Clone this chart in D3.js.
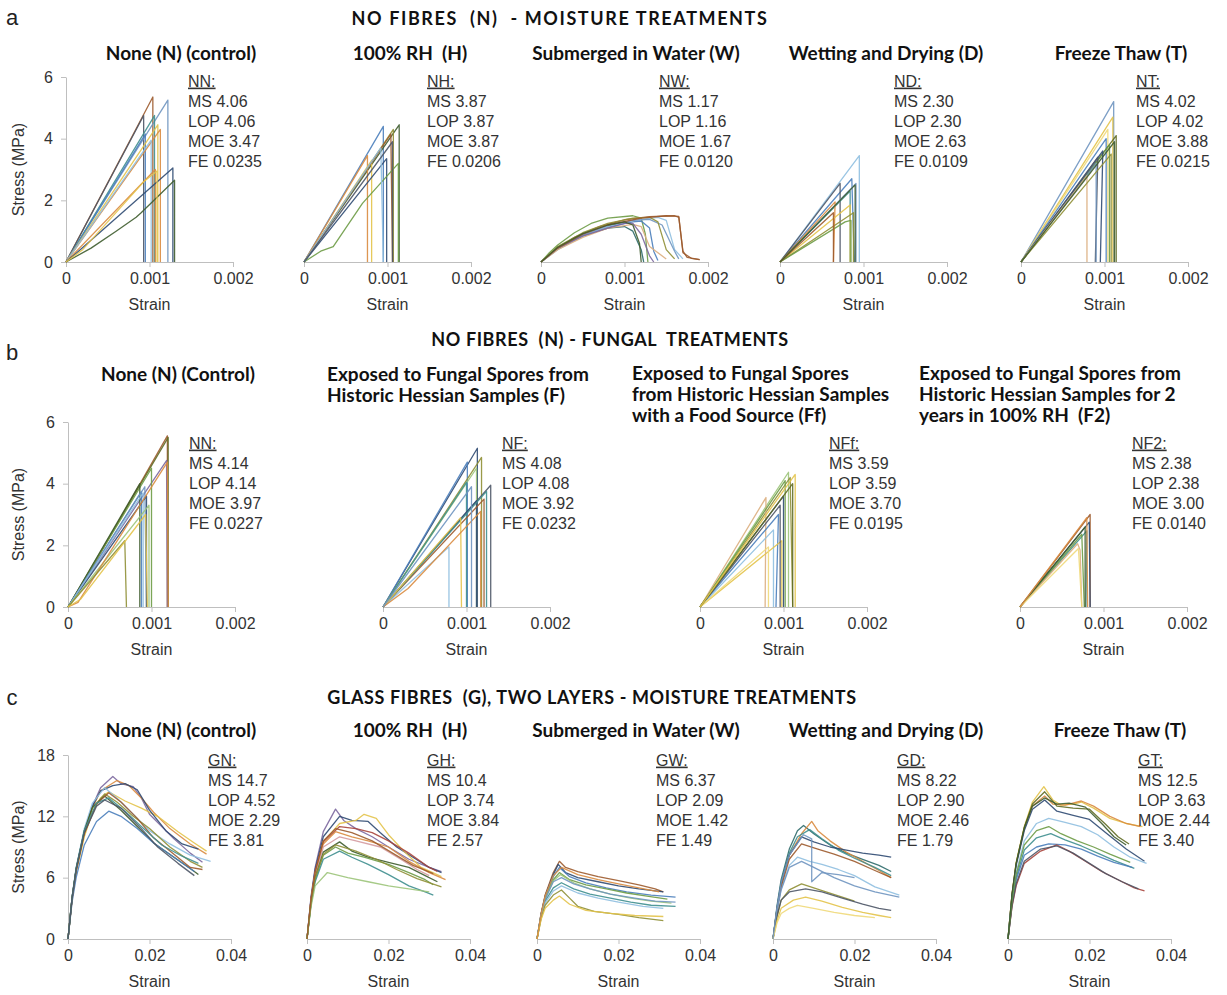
<!DOCTYPE html>
<html lang="en">
<head>
<meta charset="UTF-8">
<title>Stress-strain curves</title>
<script src="https://d3js.org/d3.v7.min.js"></script>
<style>
  body { margin: 0; background: #fff; }
  svg { display: block; font-family: "Liberation Sans", Arial, sans-serif; }
  .row-title { font-family: Lato, sans-serif; font-weight: 700; font-size: 18px; fill: #111; white-space: pre; letter-spacing: 0.6px; }
  .panel-title { font-family: Lato, sans-serif; font-weight: 700; font-size: 19px; fill: #111; white-space: pre; }
  .row-label { font-size: 22px; fill: #222; }
  .stat { font-size: 16px; fill: #333; }
  .tick text { font-size: 16px; fill: #333; }
  .axis-title { font-size: 16px; fill: #333; }
</style>
</head>
<body>
<div id="chart"></div>
<script>
// ---------- data ----------
const rowTitles = [
  "NO FIBRES  (N)  - MOISTURE TREATMENTS",
  "NO FIBRES  (N) - FUNGAL  TREATMENTS",
  "GLASS FIBRES  (G), TWO LAYERS - MOISTURE TREATMENTS"
];
const rowLetters = ["a", "b", "c"];

const moistureTitles = [["None (N) (control)"], ["100% RH  (H)"], ["Submerged in Water (W)"], ["Wetting and Drying (D)"], ["Freeze Thaw (T)"]];
const fungalTitles = [
  ["None (N) (Control)"],
  ["Exposed to Fungal Spores from", "Historic Hessian Samples (F)"],
  ["Exposed to Fungal Spores", "from Historic Hessian Samples", "with a Food Source (Ff)"],
  ["Exposed to Fungal Spores from", "Historic Hessian Samples for 2", "years in 100% RH  (F2)"]
];

const brittleStrainTicks = [0, 0.001, 0.002];
const brittleStressTicks = [0, 2, 4, 6];
const glassStrainTicks = [0, 0.02, 0.04];
const glassStressTicks = [0, 6, 12, 18];

// stats per panel: code, MS, LOP, MOE, FE
const statsA = [
  ["NN", "4.06", "4.06", "3.47", "0.0235"],
  ["NH", "3.87", "3.87", "3.87", "0.0206"],
  ["NW", "1.17", "1.16", "1.67", "0.0120"],
  ["ND", "2.30", "2.30", "2.63", "0.0109"],
  ["NT", "4.02", "4.02", "3.88", "0.0215"]
];
const statsB = [
  ["NN", "4.14", "4.14", "3.97", "0.0227"],
  ["NF", "4.08", "4.08", "3.92", "0.0232"],
  ["NFf", "3.59", "3.59", "3.70", "0.0195"],
  ["NF2", "2.38", "2.38", "3.00", "0.0140"]
];
const statsC = [
  ["GN", "14.7", "4.52", "2.29", "3.81"],
  ["GH", "10.4", "3.74", "3.84", "2.57"],
  ["GW", "6.37", "2.09", "1.42", "1.49"],
  ["GD", "8.22", "2.90", "2.46", "1.79"],
  ["GT", "12.5", "3.63", "2.44", "3.40"]
];

// curves: [strain, stress (MPa)] points
const nnCurves = [
  [[0,0],[0.00104,5.35],[0.00104,0]],
  [[0,0],[0.00093,4.75],[0.00093,0]],
  [[0,0],[0.00122,5.25],[0.00122,0]],
  [[0,0],[0.00106,4.75],[0.00106,0]],
  [[0,0],[0.00095,4.15],[0.00095,0]],
  [[0,0],[0.0011,4.45],[0.0011,0]],
  [[0,0],[0.00113,4.3],[0.00113,0]],
  [[0,0],[0.00102,3.95],[0.00102,0]],
  [[0,0],[0.00107,3.0],[0.00107,0]],
  [[0,0],[0.00015,0.35],[0.00128,3.05],[0.00128,0]],
  [[0,0],[0.0003,0.45],[0.0006,1.0],[0.00084,1.45],[0.0009,1.6],[0.0013,2.65],[0.0013,0]],
  [[0,0],[0.0002,0.4],[0.00093,2.6],[0.00109,2.95],[0.00109,0]]
];
const nhCurves = [
  [[0,0],[0.00095,4.4],[0.00095,0]],
  [[0,0],[0.00114,4.45],[0.00114,0]],
  [[0,0],[0.00107,4.3],[0.00107,0]],
  [[0,0],[0.00076,3.45],[0.00076,0]],
  [[0,0],[0.00081,3.3],[0.00081,0]],
  [[0,0],[0.00104,4.15],[0.00106,0]],
  [[0,0],[0.00099,3.35],[0.00099,0]],
  [[0,0],[0.0002,0.35],[0.00035,0.5],[0.0007,1.9],[0.00113,3.2],[0.00113,0]],
  [[0,0],[0.00092,3.7],[0.00095,0]],
  [[0,0],[0.00106,3.9],[0.00106,0]]
];
const nwCurves = [
  [[0,0],[0.0001,0.3],[0.0002,0.55],[0.0004,0.95],[0.0006,1.25],[0.0008,1.42],[0.0011,1.5],[0.0012,1.42],[0.00125,0.9],[0.00128,0]],
  [[0,0],[0.0002,0.45],[0.0004,0.8],[0.0007,1.15],[0.001,1.37],[0.0013,1.47],[0.0016,1.5],[0.00165,1.45],[0.0017,0.35],[0.00175,0.15],[0.0019,0.08]],
  [[0,0],[0.0002,0.42],[0.0005,0.85],[0.0008,1.13],[0.0011,1.3],[0.0012,1.33],[0.0013,1.1],[0.00135,0.35],[0.0014,0.05]],
  [[0,0],[0.0002,0.45],[0.0005,0.85],[0.0008,1.1],[0.001,1.15],[0.0011,1.0],[0.0012,0.4],[0.00123,0]],
  [[0,0],[0.0002,0.4],[0.0005,0.85],[0.0008,1.15],[0.0011,1.35],[0.0014,1.45],[0.0015,1.35],[0.0016,0.4],[0.0017,0.1]],
  [[0,0],[0.0002,0.42],[0.0005,0.88],[0.0008,1.18],[0.0011,1.35],[0.0013,1.38],[0.00145,1.2],[0.0016,0.35],[0.00165,0.1]],
  [[0,0],[0.0002,0.4],[0.0005,0.8],[0.0008,1.1],[0.0011,1.22],[0.0012,1.15],[0.0013,0.5],[0.0015,0.1]],
  [[0,0],[0.0002,0.45],[0.0005,0.85],[0.0008,1.1],[0.001,1.25],[0.0011,1.25],[0.0012,0.9],[0.0013,0.2],[0.00135,0]],
  [[0,0],[0.0002,0.5],[0.0005,0.95],[0.0008,1.25],[0.0011,1.42],[0.0013,1.45],[0.0014,1.3],[0.0015,0.4],[0.0016,0.1]],
  [[0,0],[0.0002,0.45],[0.0005,0.9],[0.0008,1.2],[0.0012,1.42],[0.0015,1.5],[0.00165,1.48],[0.0017,0.3],[0.0018,0.12],[0.0019,0.08]],
  [[0,0],[0.0002,0.48],[0.0005,0.92],[0.0008,1.2],[0.001,1.3],[0.0011,1.2],[0.00118,0.6],[0.0012,0]]
];
const ndCurves = [
  [[0,0],[0.00095,3.45],[0.00095,0]],
  [[0,0],[0.00086,2.7],[0.00089,0]],
  [[0,0],[0.00072,2.55],[0.00072,0]],
  [[0,0],[0.00091,2.55],[0.00091,0]],
  [[0,0],[0.00084,2.3],[0.00084,0]],
  [[0,0],[0.00066,1.95],[0.00064,0]],
  [[0,0],[0.00084,1.85],[0.00084,0]],
  [[0,0],[0.00088,1.6],[0.00088,0]],
  [[0,0],[0.00078,1.3],[0.00085,1.35],[0.00085,0]],
  [[0,0],[0.00064,1.6],[0.00064,0]],
  [[0,0],[0.0009,2.5],[0.0009,0]]
];
const ntCurves = [
  [[0,0],[0.00111,5.2],[0.00111,0]],
  [[0,0],[0.0011,4.7],[0.0011,0]],
  [[0,0],[0.00104,4.3],[0.00104,0]],
  [[0,0],[0.00102,4.0],[0.00102,0]],
  [[0,0],[0.00114,4.1],[0.00114,0]],
  [[0,0],[0.00106,3.8],[0.00106,0]],
  [[0,0],[0.00098,3.6],[0.00095,0]],
  [[0,0],[0.00092,3.4],[0.00089,0]],
  [[0,0],[0.0009,3.2],[0.0009,0]],
  [[0,0],[0.00079,2.8],[0.00079,0]],
  [[0,0],[0.00108,3.5],[0.00108,0]],
  [[0,0],[0.00112,3.9],[0.00112,0]]
];
const fnnCurves = [
  [[0,0],[0.0002,0.85],[0.00119,5.55],[0.00119,0]],
  [[0,0],[0.0012,5.5],[0.0012,0]],
  [[0,0],[0.00118,4.75],[0.00119,0]],
  [[0,0],[0.001,4.5],[0.001,0]],
  [[0,0],[0.00086,4.0],[0.00086,0]],
  [[0,0],[0.00088,3.75],[0.00088,0]],
  [[0,0],[0.00092,3.9],[0.00094,0]],
  [[0,0],[0.00094,3.6],[0.00094,0]],
  [[0,0],[0.0009,3.7],[0.0009,0]],
  [[0,0],[0.00097,3.3],[0.00097,0]],
  [[0,0],[0.00012,0.15],[0.00119,4.7],[0.0012,0]],
  [[0,0],[0.00068,2.15],[0.0007,0]],
  [[0,0],[0.00015,0.25],[0.00093,3.0],[0.00095,0]]
];
const nfCurves = [
  [[0,0],[0.00113,5.15],[0.00113,0]],
  [[0,0],[0.00101,4.7],[0.00101,0]],
  [[0,0],[0.00118,4.85],[0.00118,0]],
  [[0,0],[0.00112,4.5],[0.00112,0]],
  [[0,0],[0.001,4.05],[0.001,0]],
  [[0,0],[0.00129,3.95],[0.00129,0]],
  [[0,0],[0.00112,3.45],[0.00112,0]],
  [[0,0],[0.00121,3.5],[0.00121,0]],
  [[0,0],[0.00124,3.75],[0.00124,0]],
  [[0,0],[0.00079,1.95],[0.00079,0]],
  [[0,0],[0.00093,2.9],[0.00094,0]],
  [[0,0],[0.0003,0.6],[0.00117,3.1],[0.00117,0]],
  [[0,0],[0.00106,3.9],[0.00106,0]]
];
const nffCurves = [
  [[0,0],[0.00106,4.37],[0.00106,0]],
  [[0,0],[0.00108,4.2],[0.00111,0]],
  [[0,0],[0.00079,3.55],[0.00078,0]],
  [[0,0],[0.00102,4.1],[0.00102,0]],
  [[0,0],[0.001,3.6],[0.001,0]],
  [[0,0],[0.00094,3.0],[0.00091,0]],
  [[0,0],[0.00088,2.5],[0.00088,0]],
  [[0,0],[0.00098,2.15],[0.00098,0]],
  [[0,0],[0.00096,3.3],[0.00096,0]],
  [[0,0],[0.00082,1.95],[0.00082,0]],
  [[0,0],[0.00111,4.0],[0.00111,0]],
  [[0,0],[0.00114,4.3],[0.00114,0]]
];
const nf2Curves = [
  [[0,0],[0.00084,3.0],[0.00084,0]],
  [[0,0],[0.00083,2.75],[0.00084,0]],
  [[0,0],[0.0008,2.47],[0.00079,0]],
  [[0,0],[0.00074,2.36],[0.00077,0]],
  [[0,0],[0.00069,2.05],[0.00072,1.85],[0.00074,0]],
  [[0,0],[0.00078,2.6],[0.00078,0]],
  [[0,0],[0.0007,1.9],[0.00074,0]],
  [[0,0],[0.0008,2.9],[0.00081,0]]
];
const gnCurves = [
  [[0,0],[0.001,4],[0.002,6.8],[0.004,10.5],[0.006,13],[0.008,14.8],[0.011,15.9],[0.013,15.2],[0.016,14.9],[0.018,13.8],[0.02,12.2],[0.023,11],[0.026,9.8],[0.03,8.4],[0.033,7.5]],
  [[0,0],[0.001,3.8],[0.002,6.5],[0.004,10.2],[0.006,12.8],[0.008,14.5],[0.012,15.5],[0.015,15],[0.018,13.8],[0.021,12.4],[0.025,10.8],[0.03,9.3],[0.034,8.3]],
  [[0,0],[0.001,3.9],[0.002,6.6],[0.004,10],[0.006,12.4],[0.008,13.8],[0.01,14.4],[0.014,13.5],[0.018,12.8],[0.022,12],[0.027,10.5],[0.031,9.4],[0.034,8.6]],
  [[0,0],[0.001,4],[0.002,6.8],[0.004,10.5],[0.006,13],[0.008,14.5],[0.011,15],[0.014,15.2],[0.017,14.6],[0.02,12.6],[0.024,10.6],[0.028,9.3],[0.032,8.8]],
  [[0,0],[0.001,4.1],[0.002,7],[0.004,10.8],[0.006,13.3],[0.009,14.8],[0.012,13.8],[0.016,12.2],[0.02,10.6],[0.025,9.3],[0.03,8.2],[0.035,7.6]],
  [[0,0],[0.001,4],[0.002,6.8],[0.004,10.4],[0.006,12.8],[0.009,14.2],[0.012,13.4],[0.016,12],[0.02,10.8],[0.025,9],[0.03,7.6],[0.033,7]],
  [[0,0],[0.001,4],[0.002,6.9],[0.004,10.6],[0.006,12.9],[0.009,14],[0.013,12.6],[0.017,11],[0.021,9.4],[0.026,8],[0.03,6.9],[0.032,6.3]],
  [[0,0],[0.001,3.6],[0.002,6],[0.004,9.2],[0.007,11.5],[0.01,12.5],[0.013,12],[0.017,10.8],[0.021,9.4],[0.026,8],[0.031,6.6]],
  [[0,0],[0.001,4],[0.002,6.7],[0.004,10.3],[0.007,13.2],[0.01,14.3],[0.013,13.4],[0.017,11.8],[0.021,9.9],[0.026,8.3],[0.03,7],[0.033,6.8]],
  [[0,0],[0.001,4.1],[0.002,6.9],[0.004,10.6],[0.007,13.3],[0.01,13.8],[0.014,12.5],[0.018,11],[0.023,9.2],[0.028,8.1],[0.032,7.4]],
  [[0,0],[0.001,4],[0.002,6.8],[0.004,10.4],[0.007,13],[0.009,13.6],[0.013,12.8],[0.018,10.8],[0.022,9],[0.027,7.4],[0.031,6.2]]
];
const ghCurves = [
  [[0,0],[0.001,4.2],[0.002,7],[0.004,10.5],[0.007,12.7],[0.009,11.6],[0.012,10.8],[0.016,10],[0.02,9],[0.025,7.8],[0.03,7],[0.033,6.6]],
  [[0,0],[0.001,4],[0.002,6.8],[0.004,10],[0.008,12],[0.011,11.6],[0.015,11.5],[0.018,10.4],[0.022,9],[0.026,8],[0.03,7],[0.033,6.5]],
  [[0,0],[0.001,3.8],[0.002,6.5],[0.004,9.5],[0.008,11.3],[0.012,11.6],[0.014,12.2],[0.017,11.8],[0.02,10.2],[0.024,8.5],[0.028,7],[0.033,6.1]],
  [[0,0],[0.001,3.9],[0.002,6.6],[0.004,9.5],[0.008,11],[0.012,10.8],[0.016,10.4],[0.02,9.6],[0.025,8.4],[0.03,7],[0.032,6.6]],
  [[0,0],[0.001,3.8],[0.002,6.4],[0.004,9.3],[0.007,10.5],[0.011,10],[0.015,9.6],[0.02,9],[0.025,7.6],[0.03,6.5],[0.034,5.8]],
  [[0,0],[0.001,3.7],[0.002,6.2],[0.004,9],[0.008,10],[0.012,9.6],[0.018,9],[0.023,7.8],[0.027,6.8],[0.03,6.2]],
  [[0,0],[0.001,3.6],[0.002,6],[0.004,8.5],[0.008,9.5],[0.011,8.6],[0.015,8],[0.02,7.5],[0.025,7],[0.029,6.2],[0.032,5.6]],
  [[0,0],[0.001,3.5],[0.002,5.8],[0.004,8.2],[0.007,9],[0.01,8.4],[0.014,8],[0.02,7.3],[0.025,6.5],[0.029,5.8],[0.031,5.3]],
  [[0,0],[0.001,3.4],[0.002,5.6],[0.004,7.8],[0.008,8.6],[0.011,8],[0.015,7.3],[0.02,6.3],[0.025,5.2],[0.029,4.6],[0.031,4.3]],
  [[0,0],[0.001,3.2],[0.002,5.2],[0.005,6.5],[0.01,6],[0.015,5.6],[0.02,5.2],[0.025,4.9],[0.03,4.6]],
  [[0,0],[0.001,3.6],[0.002,6],[0.004,8.3],[0.007,9.2],[0.012,8.6],[0.017,7.8],[0.022,6.8],[0.027,5.9],[0.033,5.1]],
  [[0,0],[0.001,3.9],[0.002,6.5],[0.004,9.6],[0.007,10.8],[0.011,10.4],[0.016,9.6],[0.021,8.4],[0.026,7.2],[0.031,6.4]]
];
const gwCurves = [
  [[0,0],[0.001,2.5],[0.002,4.3],[0.004,6.5],[0.0055,7.6],[0.007,7.0],[0.01,6.6],[0.015,6.1],[0.02,5.7],[0.025,5.3],[0.029,4.9],[0.031,4.6]],
  [[0,0],[0.001,2.4],[0.002,4.2],[0.004,6.3],[0.0052,7.3],[0.007,6.5],[0.01,6],[0.015,5.6],[0.02,5.2],[0.025,4.9],[0.031,4.6]],
  [[0,0],[0.001,2.4],[0.002,4.1],[0.004,6.1],[0.0055,7.0],[0.008,6.1],[0.012,5.5],[0.017,5.0],[0.022,4.6],[0.028,4.3],[0.034,4.1]],
  [[0,0],[0.001,2.3],[0.002,4],[0.004,5.8],[0.0055,6.5],[0.008,5.8],[0.012,5.3],[0.017,4.9],[0.022,4.5],[0.027,4.2],[0.032,3.9]],
  [[0,0],[0.001,2.3],[0.002,3.9],[0.004,5.7],[0.0058,6.3],[0.009,5.5],[0.013,4.9],[0.018,4.4],[0.023,4.0],[0.028,3.7],[0.033,3.5]],
  [[0,0],[0.001,2.2],[0.002,3.7],[0.004,5.0],[0.006,5.5],[0.009,4.9],[0.013,4.4],[0.018,4.0],[0.023,3.6],[0.028,3.3],[0.034,3.2]],
  [[0,0],[0.001,2.3],[0.002,3.9],[0.004,5.6],[0.006,6.0],[0.009,5.4],[0.013,4.9],[0.018,4.4],[0.024,4.0],[0.029,3.7],[0.034,3.6]],
  [[0,0],[0.001,2.1],[0.002,3.5],[0.004,4.7],[0.006,5.2],[0.01,4.5],[0.015,4.0],[0.02,3.6],[0.026,3.2],[0.031,3.0]],
  [[0,0],[0.001,2.0],[0.002,3.3],[0.004,4.3],[0.006,4.8],[0.008,4.0],[0.01,3.2],[0.014,2.7],[0.02,2.4],[0.025,2.1],[0.031,1.8]],
  [[0,0],[0.001,1.9],[0.002,3.0],[0.004,3.8],[0.0055,4.2],[0.008,3.4],[0.012,2.8],[0.018,2.5],[0.024,2.3],[0.031,2.2]],
  [[0,0],[0.001,2.4],[0.002,4.2],[0.004,6.2],[0.006,7.0],[0.01,6.3],[0.015,5.8],[0.02,5.4],[0.025,5.0],[0.03,4.6]]
];
const gdCurves = [
  [[0,0],[0.001,3.3],[0.002,5.8],[0.004,8.8],[0.006,10.6],[0.0075,11.1],[0.01,10.3],[0.014,9.2],[0.018,8.4],[0.022,7.8],[0.026,7.2],[0.029,6.6]],
  [[0,0],[0.001,3],[0.002,5.3],[0.004,8.2],[0.007,10.3],[0.0095,11.5],[0.011,10.6],[0.014,9.6],[0.018,8.5],[0.022,7.6],[0.026,6.7],[0.029,6.0]],
  [[0,0],[0.001,3.1],[0.002,5.5],[0.004,8.4],[0.006,10],[0.009,10.7],[0.012,9.8],[0.016,8.7],[0.02,7.9],[0.025,7],[0.029,6.2]],
  [[0,0],[0.001,3],[0.002,5.4],[0.004,8.2],[0.007,10.0],[0.01,9.5],[0.014,9.0],[0.018,8.7],[0.022,8.4],[0.026,8.2],[0.029,8.0]],
  [[0,0],[0.001,2.8],[0.002,4.9],[0.004,7.2],[0.006,8],[0.009,7.6],[0.012,7.3],[0.016,6.8],[0.02,6.2],[0.025,5.1],[0.031,4.3]],
  [[0,0],[0.001,2.9],[0.002,5.1],[0.004,7.8],[0.007,9.3],[0.011,8.8],[0.015,8.3],[0.02,7.6],[0.025,6.7],[0.029,6.0]],
  [[0,0],[0.001,2.8],[0.002,4.8],[0.004,7],[0.007,7.6],[0.01,7.0],[0.015,6.0],[0.02,5.2],[0.025,4.6],[0.031,4.1]],
  [[0,0],[0.001,2.2],[0.002,3.8],[0.004,4.8],[0.007,5.4],[0.01,5.0],[0.013,4.6],[0.017,4.1],[0.02,3.7]],
  [[0,0],[0.001,2.3],[0.002,3.8],[0.004,4.6],[0.008,4.9],[0.012,4.6],[0.017,4.0],[0.022,3.4],[0.026,3.0],[0.029,2.8]],
  [[0,0],[0.001,1.8],[0.002,3.0],[0.005,3.8],[0.008,4.1],[0.012,3.7],[0.017,3.1],[0.022,2.6],[0.026,2.3],[0.029,2.1]],
  [[0,0],[0.001,1.6],[0.002,2.5],[0.004,3.0],[0.006,3.3],[0.01,3.0],[0.015,2.6],[0.02,2.3],[0.025,2.1]],
  [[0,0],[0.001,3.1],[0.002,5.5],[0.004,8.2],[0.0075,10.2],[0.0095,9.8],[0.0095,5.6],[0.012,6.5],[0.016,6.3],[0.02,6.0]]
];
const gtCurves = [
  [[0,0],[0.001,4.5],[0.002,7.5],[0.004,11],[0.006,13.4],[0.0088,14.9],[0.011,13.6],[0.013,13.1],[0.016,13.2],[0.018,13.4],[0.021,12.8],[0.025,11.8],[0.029,11.3],[0.033,11.0]],
  [[0,0],[0.001,4.3],[0.002,7.3],[0.004,10.8],[0.006,13],[0.009,14],[0.011,13.2],[0.014,13.1],[0.018,13.5],[0.021,13.0],[0.025,12],[0.029,11.3],[0.0325,11.0]],
  [[0,0],[0.001,4.4],[0.002,7.4],[0.004,10.9],[0.006,13.2],[0.009,14.4],[0.012,13.0],[0.016,12.8],[0.02,12.7],[0.024,11.2],[0.027,10.0],[0.0297,9.3]],
  [[0,0],[0.001,4.3],[0.002,7.2],[0.004,10.6],[0.006,12.7],[0.009,13.6],[0.012,12.5],[0.016,12.1],[0.02,11.7],[0.024,10.4],[0.029,8.8],[0.0335,7.6]],
  [[0,0],[0.001,3.9],[0.002,6.5],[0.004,9.6],[0.007,11.3],[0.01,11.8],[0.014,11.4],[0.018,11],[0.022,10.2],[0.026,9.0],[0.03,8.0],[0.034,7.4]],
  [[0,0],[0.001,3.6],[0.002,6],[0.004,8.7],[0.007,9.9],[0.0105,10.3],[0.014,9.7],[0.018,9.1],[0.022,8.4],[0.026,7.7],[0.031,6.9]],
  [[0,0],[0.001,3.5],[0.002,5.8],[0.004,8.2],[0.007,9.0],[0.01,9.3],[0.014,9.2],[0.018,8.8],[0.022,8.1],[0.026,7.5],[0.0305,7.0]],
  [[0,0],[0.001,3.2],[0.002,5.2],[0.004,7.4],[0.008,8.6],[0.012,9.2],[0.015,8.6],[0.019,7.6],[0.023,6.6],[0.027,5.8],[0.031,5.0],[0.0335,4.7]],
  [[0,0],[0.001,3.3],[0.002,5.4],[0.004,7.6],[0.008,8.8],[0.012,9.1],[0.016,8.4],[0.02,7.4],[0.024,6.4],[0.028,5.6],[0.032,4.9]],
  [[0,0],[0.001,3.8],[0.002,6.3],[0.004,9.2],[0.007,10.6],[0.01,11.0],[0.013,10.3],[0.017,9.6],[0.021,9.0],[0.025,8.3],[0.03,7.5]],
  [[0,0],[0.001,4.4],[0.002,7.4],[0.004,10.9],[0.006,13],[0.009,13.8],[0.012,13.2],[0.015,13.3],[0.019,12.9],[0.023,11.3],[0.026,10.0],[0.029,9.2]]
];

// ---------- styles ----------
const palette = {
  blue: "#4a7ebb", navy: "#2f4a72", steel: "#6f95c0", lightblue: "#8fbfe0",
  teal: "#3f8f8f", dkteal: "#2e6a6a", green: "#6d9b45", dkgreen: "#3e5c2e",
  lightgreen: "#9cc47a", olive: "#8f8f35", dkolive: "#5f6a22", yellow: "#e3c34a",
  lightyellow: "#efd97a", orange: "#d98b3f", tan: "#dcae7e", brown: "#9c5a2c",
  red: "#a8453d", purple: "#7b679f", pink: "#d49aa0", slate: "#4d5566"
};
const nnColors = ["brown","slate","steel","teal","blue","yellow","orange","lightblue","orange","navy","dkgreen","yellow"];
const nhColors = ["blue","dkgreen","olive","orange","yellow","brown","navy","green","lightblue","slate"];
const nwColors = ["green","brown","blue","dkteal","lightblue","steel","tan","purple","olive","brown","dkgreen"];
const ndColors = ["lightblue","blue","slate","steel","teal","orange","yellow","olive","green","brown","dkgreen"];
const ntColors = ["steel","yellow","lightyellow","blue","dkolive","green","navy","slate","steel","tan","olive","dkgreen"];
const fnnColors = ["brown","dkolive","purple","green","dkgreen","blue","steel","navy","lightblue","lightgreen","orange","olive","yellow"];
const nfColors = ["navy","blue","olive","lightgreen","teal","slate","navy","brown","teal","lightblue","yellow","orange","steel"];
const nffColors = ["lightgreen","olive","tan","green","navy","blue","lightblue","yellow","slate","lightyellow","dkolive","yellow"];
const nf2Colors = ["brown","navy","teal","green","tan","dkgreen","lightyellow","orange"];
const gnColors = ["purple","orange","yellow","navy","lightblue","olive","dkgreen","blue","brown","teal","slate"];
const ghColors = ["purple","navy","yellow","red","orange","pink","dkgreen","green","teal","lightgreen","olive","brown"];
const gwColors = ["brown","navy","blue","green","lightgreen","teal","steel","lightblue","olive","yellow","orange"];
const gdColors = ["dkteal","orange","teal","navy","lightblue","brown","steel","olive","slate","yellow","lightyellow","steel"];
const gtColors = ["yellow","orange","dkolive","navy","lightblue","teal","blue","red","slate","green","dkgreen"];

// ---------- layout ----------
const W = 1227, H = 995;
const rows = [
  { letter: 0, headX: 560, headY: 19, headSpacing: 1.6, base: 262, top: 77, xMax: 0.002, xTicks: brittleStrainTicks,
    yMax: 6, yTicks: brittleStressTicks, w: 167, x0s: [66, 304, 541, 780, 1021],
    titles: moistureTitles, titleX: [181, 410, 636, 886, 1121], titleY: 53,
    stats: statsA, statX: [188, 427, 659, 894, 1136], statY: 81,
    curves: [nnCurves, nhCurves, nwCurves, ndCurves, ntCurves],
    colors: [nnColors, nhColors, nwColors, ndColors, ntColors], labelY: 17 },
  { letter: 1, headX: 610, headY: 340, headSpacing: 0.6, base: 607, top: 422, xMax: 0.002, xTicks: brittleStrainTicks,
    yMax: 6, yTicks: brittleStressTicks, w: 167, x0s: [68, 383, 700, 1020],
    titles: fungalTitles, titleX: [178, 327, 632, 919], titleY: 374,
    stats: statsB, statX: [189, 502, 829, 1132], statY: 443,
    curves: [fnnCurves, nfCurves, nffCurves, nf2Curves],
    colors: [fnnColors, nfColors, nffColors, nf2Colors], labelY: 352 },
  { letter: 2, headX: 592, headY: 698, headSpacing: 0.6, base: 939, top: 755, xMax: 0.04, xTicks: glassStrainTicks,
    yMax: 18, yTicks: glassStressTicks, w: 163, x0s: [68, 307, 537, 773, 1008],
    titles: moistureTitles, titleX: [181, 410, 636, 886, 1120], titleY: 730,
    stats: statsC, statX: [208, 427, 656, 897, 1138], statY: 760,
    curves: [gnCurves, ghCurves, gwCurves, gdCurves, gtCurves],
    colors: [gnColors, ghColors, gwColors, gdColors, gtColors], labelY: 697 }
];

const svg = d3.select("#chart").append("svg")
  .attr("width", W).attr("height", H)
  .attr("viewBox", [0, 0, W, H]);
svg.append("rect").attr("width", W).attr("height", H).attr("fill", "#fff");

const line = d3.line().x(d => d[0]).y(d => d[1]);
const tickFont = "'Liberation Sans', Arial, sans-serif";

rows.forEach(row => {
  svg.append("text").attr("class", "row-label")
    .attr("x", 12).attr("y", row.labelY).attr("dy", "0.35em").attr("text-anchor", "middle")
    .text(rowLetters[row.letter]);
  svg.append("text").attr("class", "row-title")
    .attr("x", row.headX).attr("y", row.headY).attr("dy", "0.35em").attr("text-anchor", "middle")
    .style("letter-spacing", row.headSpacing + "px")
    .text(rowTitles[row.letter]);

  const y = d3.scaleLinear().domain([0, row.yMax]).range([row.base, row.top]);

  row.x0s.forEach((x0, i) => {
    const x = d3.scaleLinear().domain([0, row.xMax]).range([x0, x0 + row.w]);
    const g = svg.append("g");

    // panel title
    const lines = row.titles[i];
    const multi = lines.length > 1;
    lines.forEach((t, k) => {
      g.append("text").attr("class", "panel-title")
        .attr("x", row.titleX[i])
        .attr("y", row.titleY + k * 21 - (lines.length === 3 ? 1 : 0))
        .attr("dy", "0.35em")
        .attr("text-anchor", multi ? "start" : "middle")
        .text(t);
    });

    // x axis
    const xAxis = d3.axisBottom(x).tickValues(row.xTicks)
      .tickFormat(d => String(d)).tickSizeInner(5).tickSizeOuter(0).tickPadding(6);
    const xa = g.append("g").attr("transform", `translate(0,${row.base})`).call(xAxis);
    xa.select(".domain").attr("stroke", "#bfbfbf");
    xa.selectAll(".tick line").attr("stroke", "#bfbfbf");
    xa.selectAll(".tick text").attr("fill", "#333").style("font-family", tickFont);

    g.append("text").attr("class", "axis-title")
      .attr("x", x0 + row.w / 2).attr("y", row.base + 42).attr("dy", "0.35em")
      .attr("text-anchor", "middle").text("Strain");

    // y axis only on the first panel of a row
    if (i === 0) {
      const yAxis = d3.axisLeft(y).tickValues(row.yTicks)
        .tickFormat(d => String(d)).tickSizeInner(5).tickSizeOuter(0).tickPadding(8);
      const ya = g.append("g").attr("transform", `translate(${x0},0)`).call(yAxis);
      ya.select(".domain").attr("stroke", "#bfbfbf");
      ya.selectAll(".tick line").attr("stroke", "#bfbfbf");
      ya.selectAll(".tick text").attr("fill", "#333").style("font-family", tickFont);
      g.append("text").attr("class", "axis-title")
        .attr("transform", `translate(18,${(row.base + row.top) / 2}) rotate(-90)`)
        .attr("dy", "0.35em").attr("text-anchor", "middle").text("Stress (MPa)");
    }

    // curves
    const cols = row.colors[i];
    g.append("g").selectAll("path")
      .data(row.curves[i])
      .join("path")
      .attr("d", c => line(c.map(p => [x(p[0]), y(p[1])])))
      .attr("fill", "none")
      .attr("stroke", (c, k) => palette[cols[k % cols.length]])
      .attr("stroke-width", 1.3)
      .attr("stroke-linejoin", "round")
      .attr("stroke-opacity", 0.9);

    // stats annotation
    const s = row.stats[i];
    const labels = [s[0] + ":", "MS " + s[1], "LOP " + s[2], "MOE " + s[3], "FE " + s[4]];
    labels.forEach((t, k) => {
      g.append("text").attr("class", "stat")
        .attr("x", row.statX[i]).attr("y", row.statY + k * 20).attr("dy", "0.35em")
        .style("text-decoration", k === 0 ? "underline" : null)
        .text(t);
    });
  });
});
</script>
</body>
</html>
